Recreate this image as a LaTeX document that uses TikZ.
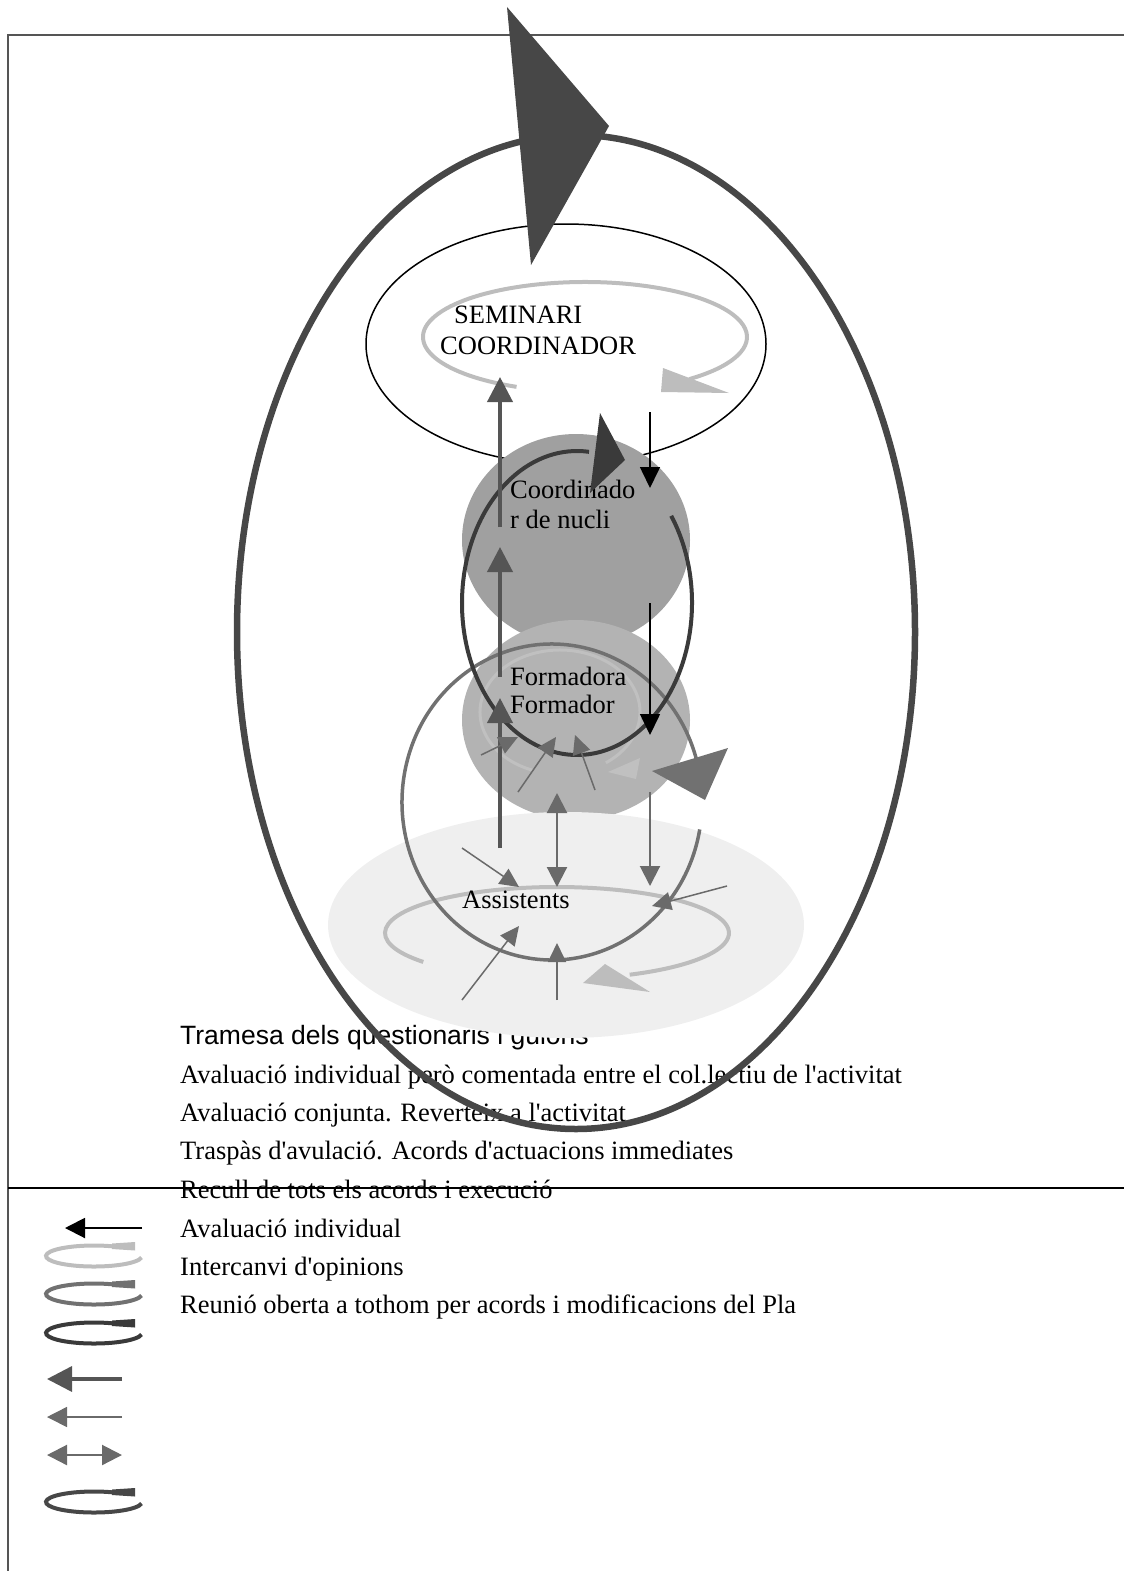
\documentclass[tikz,border=0pt]{standalone}
\usepackage{fontspec}
\setmainfont{Liberation Serif}
\newfontfamily\arialfont{Liberation Sans}
\usetikzlibrary{arrows.meta}

\definecolor{ringgray}{HTML}{474747}
\definecolor{framegray}{HTML}{555555}
\definecolor{darkloop}{HTML}{3A3A3A}
\definecolor{thickgray}{HTML}{555555}
\definecolor{midloop}{HTML}{717171}
\definecolor{midarrow}{HTML}{6A6A6A}
\definecolor{lightloop}{HTML}{BDBDBD}
\definecolor{faintloop}{HTML}{C0C0C0}
\definecolor{coordfill}{HTML}{A0A0A0}
\definecolor{formfill}{HTML}{B3B3B3}
\definecolor{assfill}{HTML}{EFEFEF}

\newcommand{\apo}{\textquotesingle}

\tikzset{
  txt/.style={anchor=base west, inner sep=0pt, font=\fontsize{26.5}{30}\selectfont},
  thickarrow/.style={thickgray, line width=4pt, -{Triangle[length=25pt,width=25pt]}},
  blackarrow/.style={black, line width=1.6pt, -{Triangle[length=21pt,width=20pt]}},
  midarrowstyle/.style={midarrow, line width=2pt, -{Triangle[length=20pt,width=20pt]}},
  thinarrow/.style={midarrow, line width=1.5pt, -{Triangle[length=19pt,width=18pt]}},
  dblarrow/.style={midarrow, line width=2.2pt, {Triangle[length=20pt,width=20pt]}-{Triangle[length=20pt,width=20pt]}},
}

\begin{document}
\begin{tikzpicture}[x=1pt,y=-1pt]
\useasboundingbox (0,0) rectangle (1124,1571);

% page frame
\draw[framegray, line width=2pt] (8,1571) -- (8,35) -- (1124,35);
\draw[black, line width=2pt] (8,1188) -- (1124,1188);

% legend texts
\node[anchor=base west, inner sep=0pt, font=\arialfont\fontsize{26.5}{30}\selectfont] (l0) at (180,1044) {Tramesa dels questionaris i guions};
\node[txt] (l1) at (180,1083) {Avaluació individual però comentada entre el col.lectiu de l\apo activitat};
\node[txt] (l2) at (180,1121) {Avaluació conjunta. Reverteix a l\apo activitat};
\node[txt] (l3) at (180,1159) {Traspàs d\apo avulació. Acords d\apo actuacions immediates};
\node[txt] (l4) at (180,1198) {Recull de tots els acords i execució};
\node[txt] (l5) at (180,1237) {Avaluació individual};
\node[txt] (l6) at (180,1275) {Intercanvi d\apo opinions};
\node[txt] (l7) at (180,1313) {Reunió oberta a tothom per acords i modificacions del Pla};

% legend symbols
\coordinate (k1a) at (142,1228); \coordinate (k1b) at (65,1228);
\draw[black, line width=2pt, -{Triangle[length=20pt,width=20pt]}] (k1a) -- (k1b);
\foreach \yy/\cc in {1256/lightloop,1294/midloop,1333/darkloop,1502/ringgray}{
  \draw[\cc, line width=4pt] (94,\yy) ++(295:48 and 10.5) arc[start angle=295, end angle=8, x radius=48, y radius=10.5];
  \fill[\cc] (112,\yy-12.5) -- (135,\yy-14) -- (135,\yy-5.5) -- (112,\yy-7) -- cycle;
}
\coordinate (k2a) at (122,1379); \coordinate (k2b) at (47,1379);
\draw[thickgray, line width=3.5pt, -{Triangle[length=25pt,width=25pt]}] (k2a) -- (k2b);
\coordinate (k3a) at (122,1417); \coordinate (k3b) at (47,1417);
\draw[midarrow, line width=1.5pt, -{Triangle[length=20pt,width=20pt]}] (k3a) -- (k3b);
\coordinate (k4a) at (47,1455); \coordinate (k4b) at (122,1455);
\draw[dblarrow] (k4a) -- (k4b);

% seminari
\draw[black, line width=1.5pt] (566,344) ellipse[x radius=200, y radius=120];
\coordinate (seminari) at (566,344);

% shaded groups
\fill[coordfill] (576,540) ellipse[x radius=114, y radius=106];
\fill[formfill] (576,720) ellipse[x radius=114, y radius=100];
\draw[faintloop, line width=3pt] (560,712) ++(110:80 and 62) arc[start angle=110, end angle=415, x radius=80, y radius=62];
\fill[faintloop] (640,758) -- (608,772) -- (636,779) -- cycle;
\fill[assfill] (566,925) ellipse[x radius=238, y radius=113];

% exchange loops
\draw[lightloop, line width=4pt] (585,337) ++(115:162 and 55) arc[start angle=115, end angle=410, x radius=162, y radius=55];
\fill[lightloop] (663,368) -- (729,393) -- (661,392) -- cycle;
\draw[lightloop, line width=4pt] (557,933) ++(141:172 and 46) arc[start angle=141, end angle=425, x radius=172, y radius=46];
\fill[lightloop] (605,964) -- (650,992) -- (583,983) -- cycle;

% labels
\node[txt] (sem1) at (454,323) {SEMINARI};
\node[txt] (sem2) at (440,354) {COORDINADOR};
\node[txt] (cn1) at (510,498) {Coordinado};
\node[txt] (cn2) at (510,528) {r de nucli};
\node[txt] (fm1) at (510,685) {Formadora};
\node[txt] (fm2) at (510,713) {Formador};
\node[txt] (as) at (462,908) {Assistents};

% meeting loops
\draw[midloop, line width=3.5pt] (552,802) ++(10:150 and 158) arc[start angle=10, end angle=345, x radius=150, y radius=158];
\fill[midloop] (652,771) -- (728,748) -- (705,800) -- cycle;
\draw[darkloop, line width=4pt] (577,603) ++(-35:115 and 152) arc[start angle=-35, end angle=276, x radius=115, y radius=152];
\fill[darkloop] (600,413) -- (625,460) -- (590,493) -- cycle;

% upward transfer
\coordinate (u0) at (500,848); \coordinate (u1) at (500,698);
\coordinate (u2) at (500,677); \coordinate (u3) at (500,547);
\coordinate (u4) at (500,527); \coordinate (u5) at (500,377);
\draw[thickarrow] (u0) -- (u1);
\draw[thickarrow] (u2) -- (u3);
\draw[thickarrow] (u4) -- (u5);

% individual evaluation downwards
\coordinate (d0) at (650,412); \coordinate (d1) at (650,488);
\coordinate (d2) at (650,603); \coordinate (d3) at (650,735);
\draw[blackarrow] (d0) -- (d1);
\draw[blackarrow] (d2) -- (d3);

% exchanges with the assistants
\coordinate (m0) at (650,792); \coordinate (m1) at (650,886);
\draw[midarrowstyle] (m0) -- (m1);
\coordinate (e0) at (557,793); \coordinate (e1) at (557,887);
\draw[dblarrow] (e0) -- (e1);
\coordinate (q0) at (557,1000); \coordinate (q1) at (557,943);
\draw[thinarrow] (q0) -- (q1);
\coordinate (r0) at (462,1000); \coordinate (r1) at (519,926);
\draw[thinarrow] (r0) -- (r1);
\coordinate (s0) at (462,848); \coordinate (s1) at (519,887);
\draw[thinarrow] (s0) -- (s1);
\coordinate (t0) at (727,886); \coordinate (t1) at (652,906);
\draw[thinarrow] (t0) -- (t1);
\coordinate (f0) at (481,755); \coordinate (f1) at (518,737);
\draw[thinarrow] (f0) -- (f1);
\coordinate (g0) at (518,792); \coordinate (g1) at (556,737);
\draw[thinarrow] (g0) -- (g1);
\coordinate (h0) at (595,790); \coordinate (h1) at (575,735);
\draw[thinarrow] (h0) -- (h1);

% overall cycle
\draw[ringgray, line width=6.5pt] (576,632) ellipse[x radius=339, y radius=497];
\fill[ringgray] (507,7) -- (609,126) -- (531,265) -- cycle;
\end{tikzpicture}
\end{document}
